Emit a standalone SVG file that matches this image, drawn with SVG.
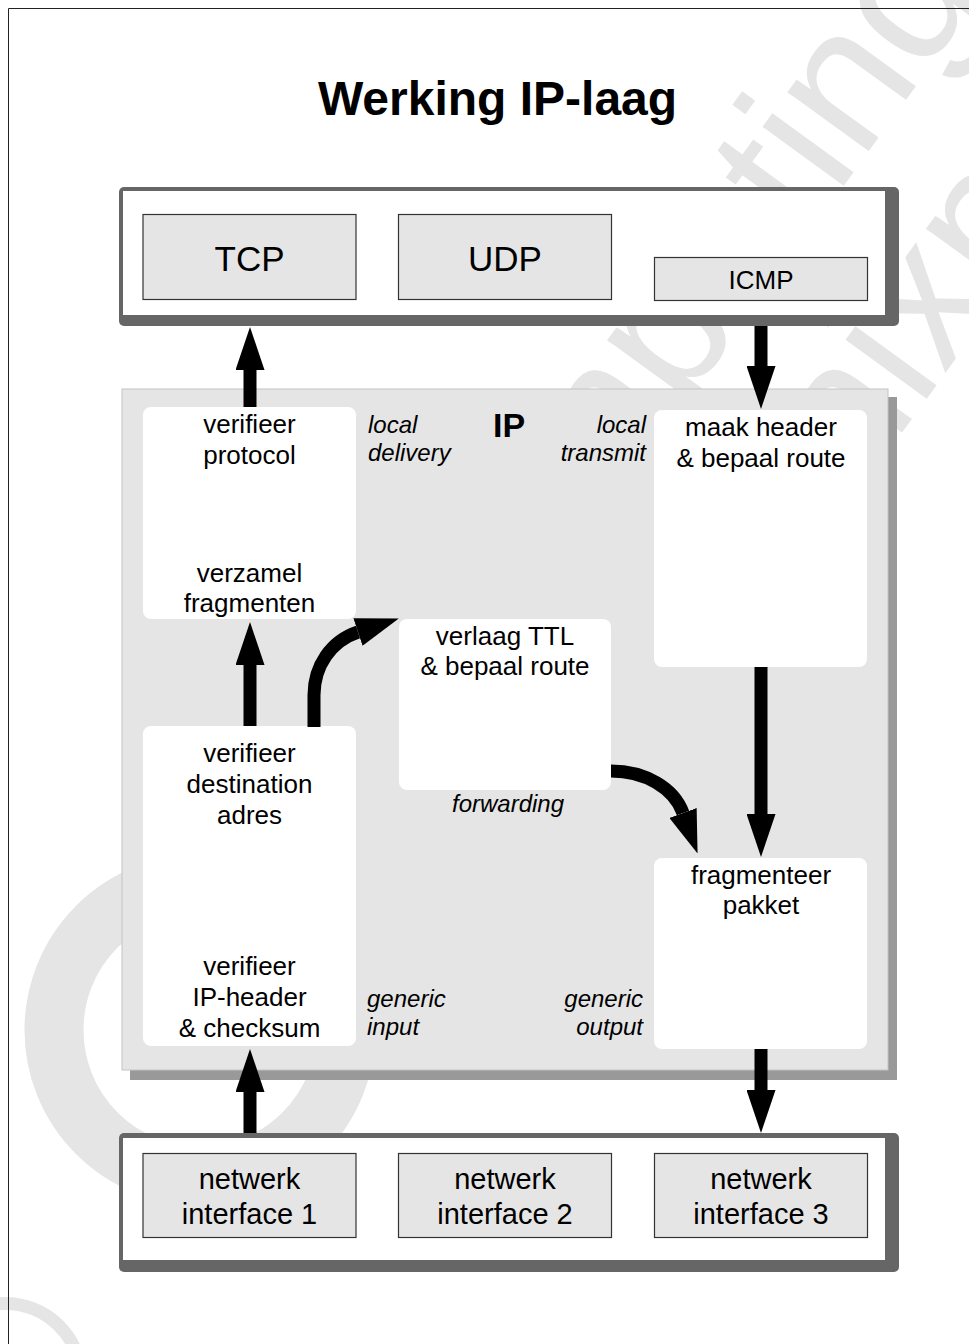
<svg xmlns="http://www.w3.org/2000/svg" width="969" height="1344" viewBox="0 0 969 1344">
<style>
  text { font-family: "Liberation Sans", Arial, Helvetica, sans-serif; fill: #000; }
  .wm { fill: #e5e5e5; font-size: 190px; }
  .wmring { fill: none; stroke: #e5e5e5; }
  .title { font-size: 48px; font-weight: bold; text-anchor: middle; }
  .frame { fill: #666; }
  .inner { fill: #fff; }
  .proto { fill: #e5e5e5; stroke: #333; stroke-width: 1.2; }
  .big { font-size: 35px; text-anchor: middle; }
  .net { font-size: 29px; text-anchor: middle; }
  .wnode { fill: #fff; }
  .t { font-size: 26px; text-anchor: middle; }
  .lbl { font-size: 24px; font-style: italic; }
  .end { text-anchor: end; }
  .shaft { stroke: #000; stroke-width: 13; fill: none; marker-end: url(#head); }
</style>
<defs>
  <marker id="head" viewBox="0 0 43 29" refX="0" refY="14.5" markerWidth="43" markerHeight="29" markerUnits="userSpaceOnUse" orient="auto">
    <path d="M0,0 L43,14.5 L0,29 z" fill="#000"/>
  </marker>
</defs>
<rect x="0" y="0" width="969" height="1344" fill="#fff"/>
<g id="watermark">
  <circle class="wmring" cx="200" cy="1030" r="146" stroke-width="59"/>
  <circle class="wmring" cx="5" cy="1380" r="76.5" stroke-width="13"/>
  <text class="wm" x="470" y="700" transform="rotate(-54 470 700)">computing</text>
  <text class="wm" x="795" y="580" transform="rotate(-54 795 580)">unixpert</text>
</g>
<g id="page-frame">
  <line x1="8.5" y1="8.5" x2="969" y2="8.5" stroke="#222" stroke-width="1"/>
  <line x1="8.5" y1="8.5" x2="8.5" y2="1344" stroke="#222" stroke-width="1"/>
</g>
<text class="title" x="497.5" y="115">Werking IP-laag</text>

<g id="transport-layer">
  <rect class="frame" x="119" y="187" width="780" height="139" rx="5"/>
  <rect class="inner" x="123" y="191" width="762" height="124"/>
</g>
<g id="tcp"><rect class="proto" x="143" y="214.5" width="213" height="85"/><text class="big" x="249.5" y="271">TCP</text></g>
<g id="udp"><rect class="proto" x="398.5" y="214.5" width="213" height="85"/><text class="big" x="505" y="271">UDP</text></g>
<g id="icmp"><rect class="proto" x="654.5" y="257.5" width="213" height="43"/><text x="761" y="289" font-size="26" text-anchor="middle">ICMP</text></g>

<g id="ip-layer">
  <rect x="130" y="397" width="767" height="683" fill="#999"/>
  <rect x="122" y="389" width="766" height="681" fill="#e5e5e5" stroke="#c4c4c4" stroke-width="1"/>
  <text x="509" y="437" font-size="34" font-weight="bold" text-anchor="middle">IP</text>
  <text class="lbl" x="368" y="433">local</text>
  <text class="lbl" x="368" y="461">delivery</text>
  <text class="lbl end" x="646" y="433">local</text>
  <text class="lbl end" x="646" y="461">transmit</text>
  <text class="lbl" x="508" y="812" text-anchor="middle">forwarding</text>
  <text class="lbl" x="367" y="1007">generic</text>
  <text class="lbl" x="367" y="1035">input</text>
  <text class="lbl end" x="643" y="1007">generic</text>
  <text class="lbl end" x="643" y="1035">output</text>
</g>

<g id="local-delivery">
  <rect class="wnode" x="143" y="407" width="213" height="212" rx="8"/>
  <text class="t" x="249.5" y="433">verifieer</text>
  <text class="t" x="249.5" y="464">protocol</text>
  <text class="t" x="249.5" y="582">verzamel</text>
  <text class="t" x="249.5" y="612">fragmenten</text>
</g>
<g id="local-transmit">
  <rect class="wnode" x="654" y="410" width="213" height="257" rx="8"/>
  <text class="t" x="761" y="436">maak header</text>
  <text class="t" x="761" y="467">&amp; bepaal route</text>
</g>
<g id="forwarding">
  <rect class="wnode" x="399" y="619" width="212" height="171" rx="8"/>
  <text class="t" x="505" y="645">verlaag TTL</text>
  <text class="t" x="505" y="675">&amp; bepaal route</text>
</g>
<g id="generic-input">
  <rect class="wnode" x="143" y="726" width="213" height="320" rx="8"/>
  <text class="t" x="249.5" y="762">verifieer</text>
  <text class="t" x="249.5" y="793">destination</text>
  <text class="t" x="249.5" y="824">adres</text>
  <text class="t" x="249.5" y="975">verifieer</text>
  <text class="t" x="249.5" y="1006">IP-header</text>
  <text class="t" x="249.5" y="1037">&amp; checksum</text>
</g>
<g id="generic-output">
  <rect class="wnode" x="654" y="858" width="213" height="191" rx="8"/>
  <text class="t" x="761" y="884">fragmenteer</text>
  <text class="t" x="761" y="914">pakket</text>
</g>

<g id="interface-layer">
  <rect class="frame" x="119" y="1133" width="780" height="139" rx="5"/>
  <rect class="inner" x="123" y="1138" width="762" height="122"/>
</g>
<g id="if1"><rect class="proto" x="143" y="1153.5" width="213" height="84"/><text class="net" x="249.5" y="1189">netwerk</text><text class="net" x="249.5" y="1224">interface 1</text></g>
<g id="if2"><rect class="proto" x="398.5" y="1153.5" width="213" height="84"/><text class="net" x="505" y="1189">netwerk</text><text class="net" x="505" y="1224">interface 2</text></g>
<g id="if3"><rect class="proto" x="654.5" y="1153.5" width="213" height="84"/><text class="net" x="761" y="1189">netwerk</text><text class="net" x="761" y="1224">interface 3</text></g>

<g id="connectors">
  <line class="shaft" x1="250" y1="407" x2="250" y2="370"/>
  <line class="shaft" x1="761" y1="326" x2="761" y2="366"/>
  <line class="shaft" x1="250" y1="726" x2="250" y2="665"/>
  <line class="shaft" x1="761" y1="667" x2="761" y2="814"/>
  <line class="shaft" x1="250" y1="1133" x2="250" y2="1092"/>
  <line class="shaft" x1="761" y1="1049" x2="761" y2="1090"/>
  <path class="shaft" d="M314,727 L314,695 C314,666 331,641 358,632"/>
  <path class="shaft" d="M611,771 C645,771 674,788 683,813"/>
</g>
</svg>
